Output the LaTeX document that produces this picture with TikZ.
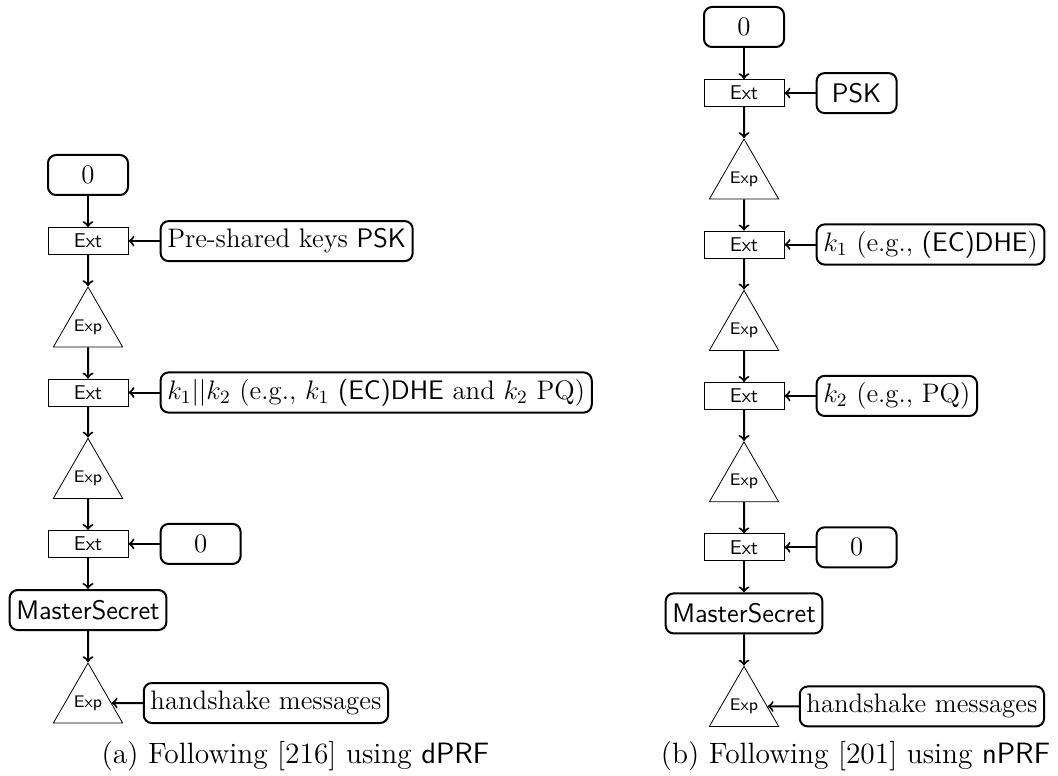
\RequirePackage{fix-cm}
\documentclass[tikz,border=0pt]{standalone}
\usepackage{fontspec}
\usepackage{amsmath}
\usetikzlibrary{positioning,shapes.geometric}

\begin{document}
\begin{tikzpicture}[node distance=15.6pt,
  every node/.style={font=\fontsize{13.4}{16}\selectfont},
  keybox/.style={draw, line width=1pt, rounded corners, minimum width=40pt, minimum height=20pt},
  extbox/.style={draw, minimum width=40pt, minimum height=13.5pt, inner sep=2pt, font=\fontsize{10}{11}\sffamily},
  exptri/.style={draw, regular polygon, regular polygon sides=3, minimum size=40pt, inner sep=0pt, font=\fontsize{8.4}{10}\sffamily},
  flow/.style={->, line width=1pt},
  caption/.style={anchor=base, font=\fontsize{14.7}{17}\selectfont}]
\useasboundingbox (0,0) rectangle (529pt,-387.5pt);

\node[keybox] (zeroA) at (44pt,-87.5pt) {$0$};
\node[extbox, below=of zeroA] (extA1) {Ext};
\node[keybox, right=of extA1] (pskA) {Pre-shared keys \textsf{PSK}};
\node[exptri, below=of extA1] (expA1) {Exp};
\node[extbox, below=of expA1] (extA2) {Ext};
\node[keybox, right=of extA2] (keysA) {$k_1||k_2$ (e.g., $k_1$ \textsf{(EC)DHE} and $k_2$ PQ)};
\node[exptri, below=of extA2] (expA2) {Exp};
\node[extbox, below=of expA2] (extA3) {Ext};
\node[keybox, right=of extA3] (nullA) {$0$};
\node[keybox, below=of extA3] (msA) {\textsf{MasterSecret}};
\node[exptri, below=of msA] (expA3) {Exp};
\node[keybox, right=of expA3] (hsA) {handshake messages};
\draw[flow] (zeroA) -- (extA1);
\draw[flow] (extA1) -- (expA1);
\draw[flow] (expA1) -- (extA2);
\draw[flow] (extA2) -- (expA2);
\draw[flow] (expA2) -- (extA3);
\draw[flow] (extA3) -- (msA);
\draw[flow] (msA) -- (expA3);
\draw[flow] (pskA) -- (extA1);
\draw[flow] (keysA) -- (extA2);
\draw[flow] (nullA) -- (extA3);
\draw[flow] (hsA) -- (expA3);
\node[caption] (capA) at (147.75pt,-381.5pt) {(a) Following [216] using \textsf{dPRF}};

\node[keybox] (zeroB) at (372pt,-13.5pt) {$0$};
\node[extbox, below=of zeroB] (extB1) {Ext};
\node[keybox, right=of extB1] (pskB) {\textsf{PSK}};
\node[exptri, below=of extB1] (expB1) {Exp};
\node[extbox, below=of expB1] (extB2) {Ext};
\node[keybox, right=of extB2] (kaB) {$k_1$ (e.g., \textsf{(EC)DHE})};
\node[exptri, below=of extB2] (expB2) {Exp};
\node[extbox, below=of expB2] (extB3) {Ext};
\node[keybox, right=of extB3] (kbB) {$k_2$ (e.g., PQ)};
\node[exptri, below=of extB3] (expB3) {Exp};
\node[extbox, below=of expB3] (extB4) {Ext};
\node[keybox, right=of extB4] (nullB) {$0$};
\node[keybox, below=of extB4] (msB) {\textsf{MasterSecret}};
\node[exptri, below=of msB] (expB4) {Exp};
\node[keybox, right=of expB4] (hsB) {handshake messages};
\draw[flow] (zeroB) -- (extB1);
\draw[flow] (extB1) -- (expB1);
\draw[flow] (expB1) -- (extB2);
\draw[flow] (extB2) -- (expB2);
\draw[flow] (expB2) -- (extB3);
\draw[flow] (extB3) -- (expB3);
\draw[flow] (expB3) -- (extB4);
\draw[flow] (extB4) -- (msB);
\draw[flow] (msB) -- (expB4);
\draw[flow] (pskB) -- (extB1);
\draw[flow] (kaB) -- (extB2);
\draw[flow] (kbB) -- (extB3);
\draw[flow] (nullB) -- (extB4);
\draw[flow] (hsB) -- (expB4);
\node[caption] (capB) at (427.75pt,-381.5pt) {(b) Following [201] using \textsf{nPRF}};
\end{tikzpicture}
\end{document}
